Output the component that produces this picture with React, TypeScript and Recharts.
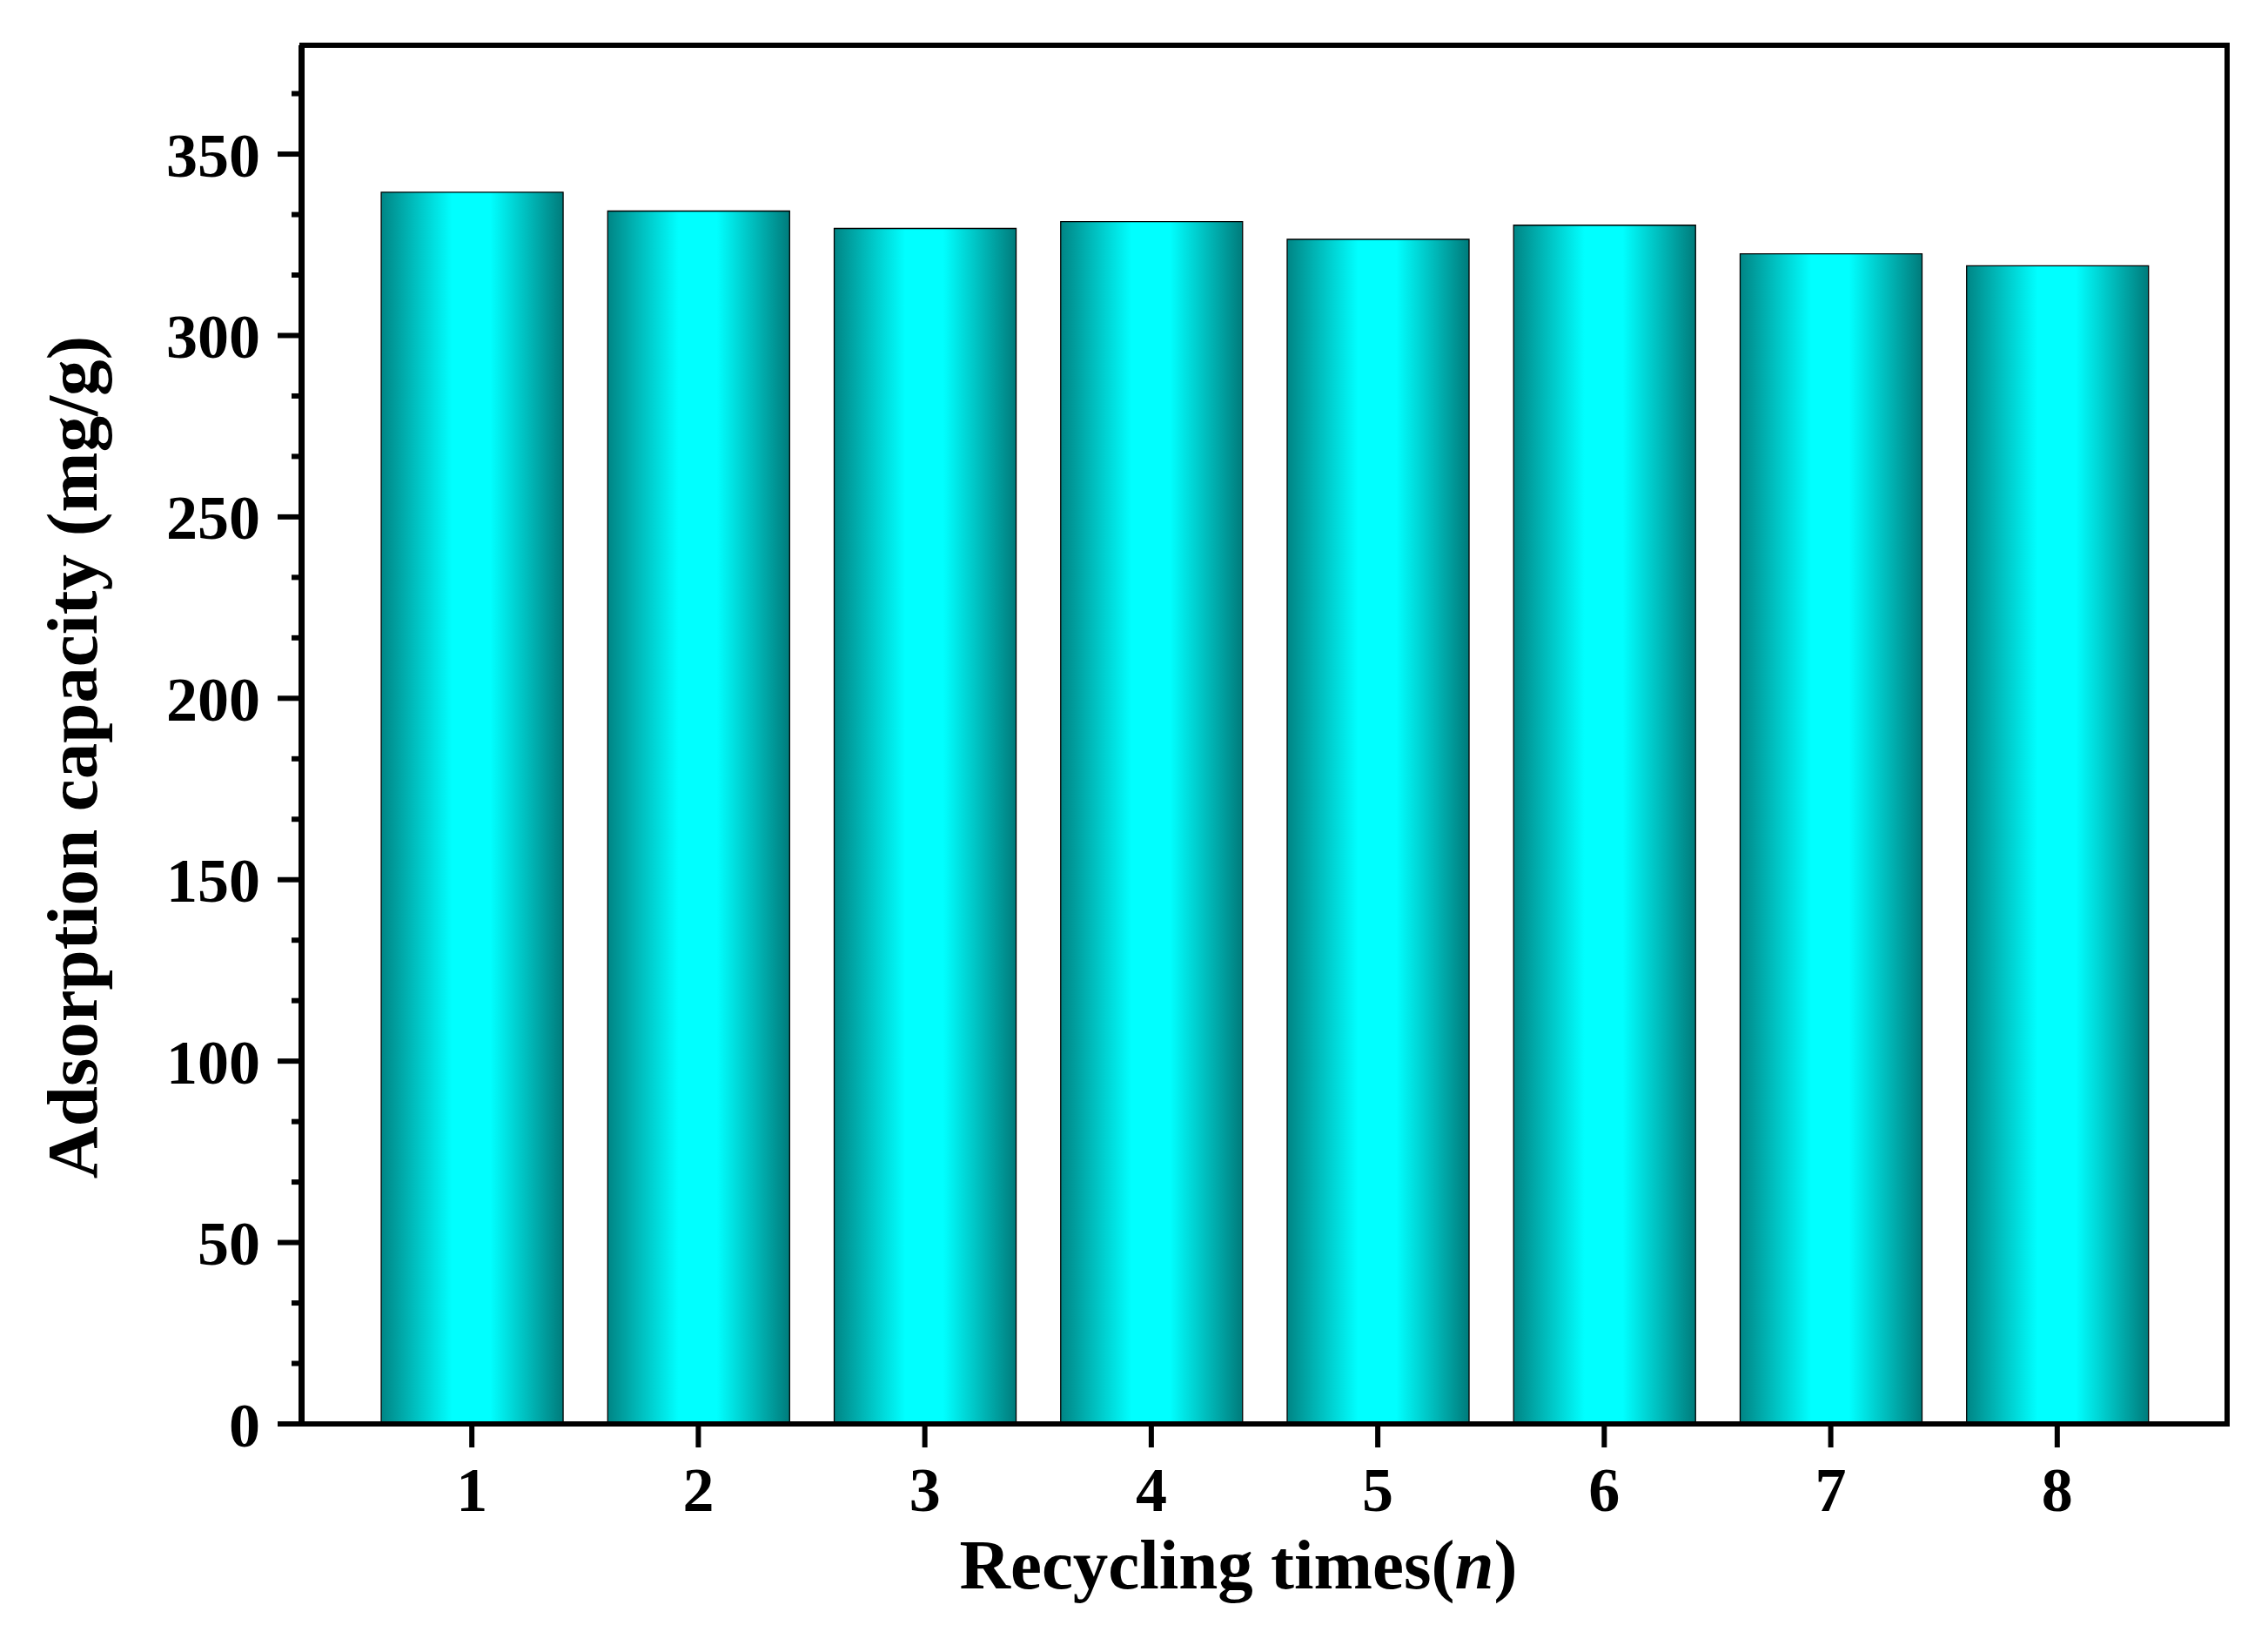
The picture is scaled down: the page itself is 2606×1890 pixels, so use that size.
import React from 'react';
import { BarChart, Bar, XAxis, YAxis, ReferenceArea } from 'recharts';

const cycles = [1, 2, 3, 4, 5, 6, 7, 8];
const capacity = [339.5, 334.3, 329.5, 331.4, 326.5, 330.4, 322.5, 319.2];
const yMajorTicks = [0, 50, 100, 150, 200, 250, 300, 350];
const yMinorTicks = [16.67, 33.33, 66.67, 83.33, 116.67, 133.33, 166.67, 183.33, 216.67, 233.33, 266.67, 283.33, 316.67, 333.33, 366.67];
const xTicks = [1, 2, 3, 4, 5, 6, 7, 8];

const data = cycles.map((c, i) => ({ n: c, q: capacity[i] }));

const FONT = '"Liberation Serif", "Times New Roman", serif';
const AX = 6;

const YTitle = (props: any) => {
  const vb = props.viewBox || {};
  const cx = 75;
  const cy = (vb.y || 0) + (vb.height || 0) / 2 + 26;
  return (
    <text
      x={cx}
      y={cy}
      transform={`rotate(-90, ${cx}, ${cy})`}
      textAnchor="middle"
      dominantBaseline="central"
      fontFamily={FONT}
      fontWeight="bold"
      fontSize={83}
      fill="#000"
    >
      Adsorption capacity (mg/g)
    </text>
  );
};

const XTitle = (props: any) => {
  const vb = props.viewBox || {};
  const cx = (vb.x || 0) + (vb.width || 0) / 2 - 30;
  const cy = (vb.y || 0) + 189;
  return (
    <text x={cx} y={cy} textAnchor="middle" fontFamily={FONT} fontWeight="bold" fontSize={81} fill="#000">
      Recycling times(<tspan fontStyle="italic">n</tspan>)
    </text>
  );
};

const NoTick = () => <g />;

export default function App() {
  return (
    <div style={{ width: 2590, height: 1874, background: '#fff' }}>
      <BarChart width={2590} height={1874} data={data} margin={{ top: 44, right: 39, left: 0, bottom: 0 }}>
        <defs>
          <linearGradient id="cyanBar" x1="0" y1="0" x2="1" y2="0">
            <stop offset="0%" stopColor="#008585" />
            <stop offset="39%" stopColor="#00ffff" />
            <stop offset="60%" stopColor="#00ffff" />
            <stop offset="100%" stopColor="#007b7b" />
          </linearGradient>
        </defs>
        <XAxis
          dataKey="n"
          type="number"
          domain={[0.25, 8.75]}
          allowDataOverflow
          ticks={xTicks}
          interval={0}
          height={246}
          axisLine={{ stroke: '#000', strokeWidth: AX }}
          tickLine={{ stroke: '#000', strokeWidth: AX }}
          tickSize={27}
          tickMargin={22}
          tick={{ fontFamily: FONT, fontWeight: 'bold', fontSize: 72, fill: '#000' }}
          label={XTitle}
        />
        <YAxis
          yAxisId={0}
          type="number"
          domain={[0, 380]}
          allowDataOverflow
          ticks={yMinorTicks}
          interval={0}
          width={1}
          axisLine={false}
          tickLine={{ stroke: '#000', strokeWidth: AX }}
          tickSize={12}
          tick={NoTick}
        />
        <YAxis
          yAxisId={1}
          type="number"
          domain={[0, 380]}
          allowDataOverflow
          ticks={yMajorTicks}
          interval={0}
          width={338}
          axisLine={{ stroke: '#000', strokeWidth: AX }}
          tickLine={{ stroke: '#000', strokeWidth: AX }}
          tickSize={27}
          tickMargin={20}
          tick={{ fontFamily: FONT, fontWeight: 'bold', fontSize: 72, fill: '#000' }}
          label={YTitle}
        />
        <Bar yAxisId={1} dataKey="q" barSize={209} fill="url(#cyanBar)" stroke="#000" strokeWidth={1.3} isAnimationActive={false} />
        <ReferenceArea yAxisId={1} x1={0.25} x2={8.75} y1={0} y2={380} fill="none" stroke="#000" strokeWidth={AX} />
      </BarChart>
    </div>
  );
}
